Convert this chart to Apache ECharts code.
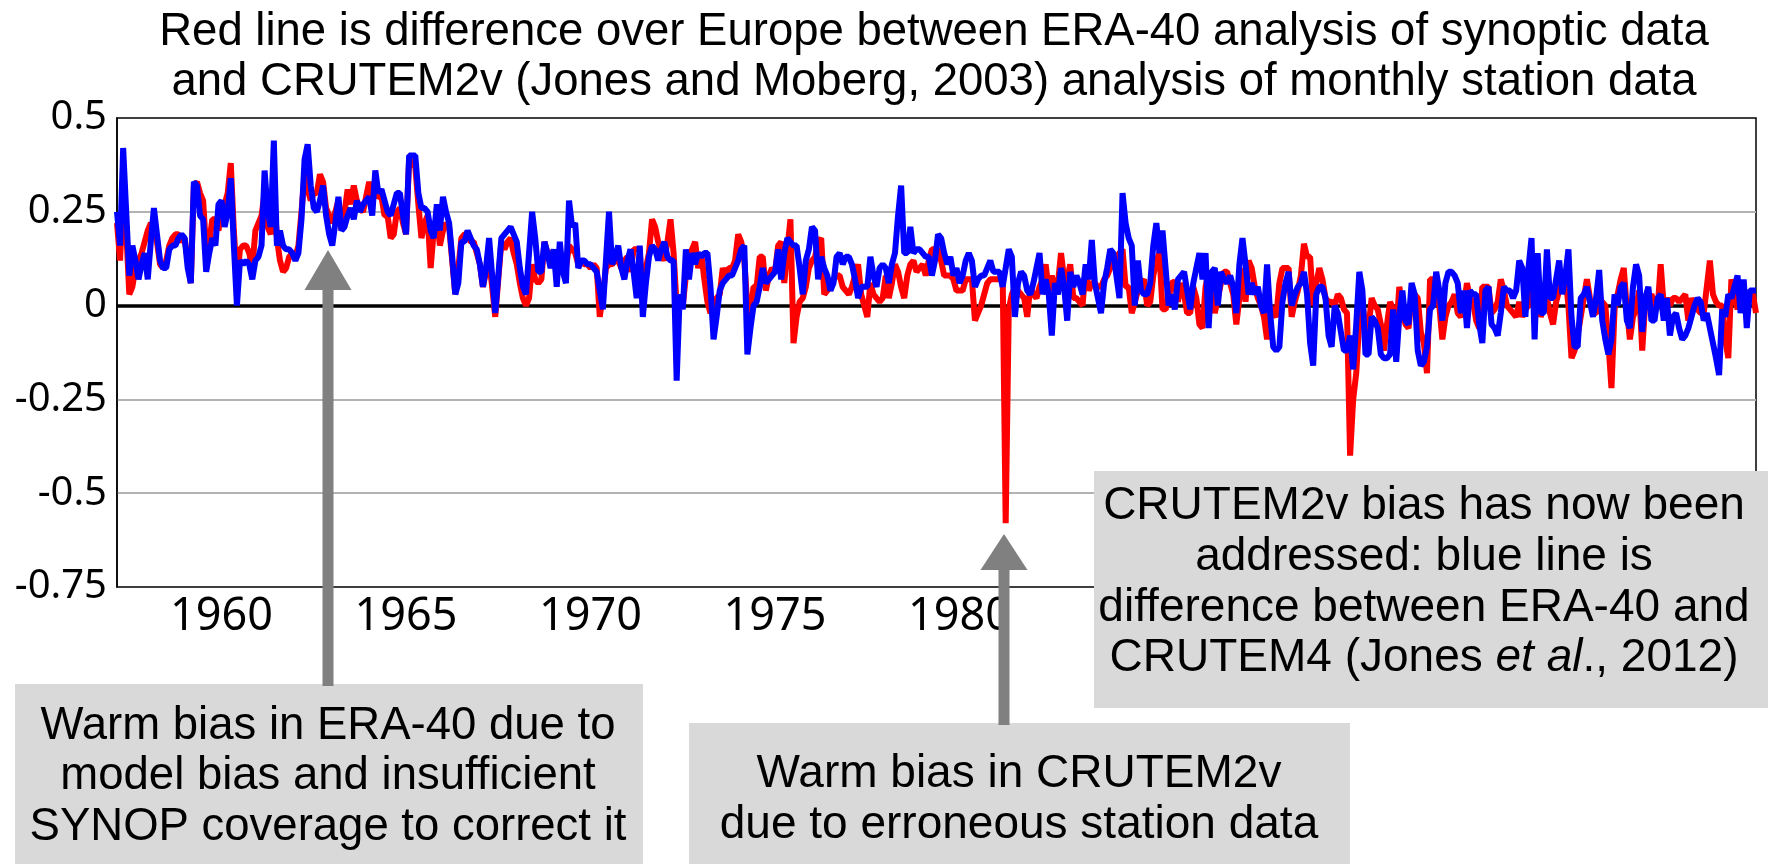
<!DOCTYPE html>
<html>
<head>
<meta charset="utf-8">
<script src="https://cdn.jsdelivr.net/npm/echarts@6/dist/echarts.min.js"></script>
<style>
  html, body { margin: 0; padding: 0; background: #fff; }
  #chart { width: 1768px; height: 864px; }
</style>
</head>
<body>
<div id="chart"></div>
<script>
// monthly series start Sep 1957
const startYear = 1957
const startMonth = 9
const labelYears = [1960, 1965, 1970, 1975, 1980, 1985, 1990, 1995, 2000]

// ERA-40 minus CRUTEM2v (red)
const era40MinusCrutem2v = [
  0.22, 0.12, 0.30, 0.20, 0.03, 0.05, 0.10, 0.12, 0.14, 0.17,
  0.20, 0.22, 0.21, 0.17, 0.11, 0.10, 0.12, 0.16, 0.18, 0.19,
  0.19, 0.17, 0.18, 0.12, 0.06, 0.32, 0.33, 0.30, 0.28, 0.15,
  0.17, 0.23, 0.23, 0.20, 0.26, 0.27, 0.30, 0.38, 0.20, 0.07,
  0.15, 0.16, 0.16, 0.14, 0.10, 0.20, 0.22, 0.24, 0.30, 0.21,
  0.19, 0.30, 0.18, 0.12, 0.09, 0.10, 0.13, 0.14, 0.13, 0.16,
  0.25, 0.35, 0.31, 0.28, 0.30, 0.30, 0.35, 0.33, 0.26, 0.24,
  0.22, 0.25, 0.28, 0.20, 0.25, 0.31, 0.27, 0.32, 0.28, 0.26,
  0.25, 0.29, 0.33, 0.28, 0.30, 0.29, 0.29, 0.24, 0.24, 0.18,
  0.19, 0.25, 0.26, 0.22, 0.19, 0.39, 0.38, 0.37, 0.27, 0.18,
  0.22, 0.24, 0.10, 0.20, 0.24, 0.16, 0.20, 0.22, 0.21, 0.12,
  0.03, 0.10, 0.18, 0.19, 0.19, 0.17, 0.17, 0.14, 0.11, 0.05,
  0.09, 0.12, 0.05, -0.03, 0.07, 0.17, 0.15, 0.17, 0.18, 0.14,
  0.11, 0.06, 0.02, 0.00, 0.02, 0.11, 0.07, 0.06, 0.07, 0.17,
  0.14, 0.14, 0.12, 0.09, 0.12, 0.14, 0.10, 0.16, 0.15, 0.14,
  0.11, 0.12, 0.11, 0.11, 0.10, 0.11, 0.10, -0.03, 0.03, 0.10,
  0.11, 0.11, 0.12, 0.12, 0.10, 0.12, 0.13, 0.09, 0.15, 0.15,
  0.15, 0.00, 0.10, 0.14, 0.23, 0.21, 0.17, 0.14, 0.12, 0.17,
  0.23, 0.14, 0.00, 0.00, 0.00, 0.08, 0.11, 0.15, 0.17, 0.10,
  0.14, 0.07, 0.01, -0.02, 0.01, 0.02, 0.03, 0.10, 0.08, 0.10,
  0.10, 0.12, 0.19, 0.17, 0.12, 0.00, -0.03, 0.05, 0.05, 0.13,
  0.13, 0.04, 0.08, 0.10, 0.09, 0.16, 0.17, 0.06, 0.15, 0.23,
  -0.10, -0.03, 0.01, 0.02, 0.05, 0.10, 0.12, 0.13, 0.17, 0.18,
  0.03, 0.04, 0.05, 0.07, 0.08, 0.08, 0.05, 0.04, 0.03, 0.05,
  0.08, 0.11, 0.03, 0.00, -0.03, 0.06, 0.03, 0.02, 0.01, 0.02,
  0.08, 0.02, 0.06, 0.11, 0.09, 0.05, 0.02, 0.08, 0.11, 0.12,
  0.09, 0.10, 0.11, 0.08, 0.12, 0.15, 0.15, 0.15, 0.12, 0.08,
  0.08, 0.08, 0.07, 0.04, 0.04, 0.04, 0.07, 0.07, 0.07, -0.04,
  -0.02, 0.00, 0.03, 0.06, 0.07, 0.07, 0.07, 0.07, 0.09, -0.58,
  -0.01, 0.03, 0.05, 0.04, 0.03, 0.02, -0.03, 0.05, 0.03, 0.02,
  0.05, 0.07, 0.11, 0.04, 0.08, 0.04, 0.06, 0.14, 0.07, 0.07,
  0.11, 0.02, 0.02, 0.01, 0.00, 0.10, 0.04, 0.06, 0.06, 0.05,
  0.05, 0.07, 0.08, 0.10, 0.11, 0.13, 0.14, 0.15, 0.05, 0.05,
  -0.02, 0.01, 0.04, 0.06, 0.07, 0.00, 0.01, 0.08, 0.12, 0.14,
  -0.01, -0.01, 0.02, 0.06, 0.065, 0.01, 0.06, 0.03, -0.02, -0.02,
  0.05, 0.02, -0.05, -0.06, 0.05, 0.09, 0.05, -0.02, 0.02, 0.06,
  0.09, 0.09, 0.06, 0.03, -0.05, 0.02, 0.10, 0.01, 0.12, 0.10,
  0.05, 0.02, 0.00, -0.03, -0.09, 0.00, -0.02, -0.03, 0.06, 0.10,
  0.10, 0.10, -0.03, 0.01, 0.04, 0.08, 0.165, 0.13, 0.13, 0.00,
  0.06, 0.10, 0.07, 0.02, 0.01, 0.01, 0.00, 0.03, 0.02, -0.01,
  -0.02, -0.40, -0.25, -0.18, -0.04, 0.02, -0.08, -0.06, 0.02, 0.00,
  -0.01, -0.05, -0.12, -0.05, 0.01, -0.01, -0.07, 0.05, 0.00, -0.05,
  -0.06, 0.02, 0.03, 0.02, -0.07, -0.10, -0.18, 0.07, 0.07, 0.03,
  0.00, -0.09, -0.03, 0.00, 0.01, 0.03, -0.02, -0.03, 0.00, 0.06,
  0.02, 0.01, -0.04, -0.06, 0.05, 0.05, 0.05, -0.02, -0.01, 0.01,
  0.07, 0.04, 0.00, -0.01, -0.02, -0.03, 0.01, -0.03, -0.01, 0.00,
  0.11, 0.10, 0.03, -0.03, 0.00, 0.02, -0.02, -0.05, 0.01, 0.04,
  0.06, 0.08, 0.00, -0.14, -0.12, -0.08, -0.03, 0.02, 0.07, 0.02,
  -0.02, -0.02, 0.01, 0.01, 0.00, -0.10, -0.22, -0.01, 0.03, 0.07,
  0.10, -0.01, -0.09, -0.03, -0.01, 0.04, -0.12, 0.01, 0.02, 0.03,
  0.00, -0.01, 0.11, 0.00, 0.02, 0.00, 0.02, 0.02, 0.01, 0.02,
  0.03, -0.04, 0.02, 0.00, -0.01, -0.02, -0.02, 0.05, 0.12, 0.03,
  0.01, 0.00, 0.00, -0.09, -0.14, 0.07, 0.03, -0.01, 0.03, 0.03,
  0.03, 0.03, 0.03, -0.02
]

// ERA-40 minus CRUTEM4 (blue)
const era40MinusCrutem4 = [
  0.25, 0.16, 0.42, 0.25, 0.08, 0.16, 0.12, 0.07, 0.11, 0.14,
  0.07, 0.17, 0.26, 0.19, 0.12, 0.10, 0.10, 0.15, 0.16, 0.16,
  0.18, 0.19, 0.18, 0.10, 0.06, 0.33, 0.32, 0.24, 0.23, 0.09,
  0.14, 0.18, 0.16, 0.27, 0.28, 0.21, 0.25, 0.34, 0.16, 0.00,
  0.12, 0.11, 0.12, 0.11, 0.07, 0.12, 0.13, 0.16, 0.36, 0.25,
  0.21, 0.44, 0.16, 0.20, 0.16, 0.15, 0.15, 0.14, 0.12, 0.14,
  0.23, 0.39, 0.43, 0.32, 0.26, 0.25, 0.28, 0.32, 0.24, 0.19,
  0.16, 0.22, 0.29, 0.20, 0.21, 0.24, 0.26, 0.23, 0.28, 0.25,
  0.27, 0.28, 0.29, 0.24, 0.36, 0.30, 0.31, 0.28, 0.25, 0.24,
  0.27, 0.30, 0.30, 0.24, 0.19, 0.40, 0.40, 0.40, 0.30, 0.26,
  0.26, 0.25, 0.20, 0.18, 0.27, 0.20, 0.29, 0.25, 0.22, 0.13,
  0.03, 0.06, 0.17, 0.17, 0.20, 0.18, 0.16, 0.15, 0.11, 0.05,
  0.10, 0.18, 0.08, -0.02, 0.08, 0.18, 0.19, 0.20, 0.21, 0.19,
  0.17, 0.10, 0.05, 0.03, 0.14, 0.25, 0.18, 0.09, 0.09, 0.17,
  0.14, 0.10, 0.15, 0.05, 0.17, 0.09, 0.06, 0.28, 0.21, 0.22,
  0.10, 0.12, 0.12, 0.11, 0.11, 0.10, 0.09, 0.04, -0.01, 0.12,
  0.25, 0.11, 0.13, 0.16, 0.10, 0.07, 0.12, 0.15, 0.09, 0.02,
  0.16, -0.03, 0.06, 0.13, 0.16, 0.15, 0.12, 0.15, 0.17, 0.13,
  0.12, 0.12, -0.20, 0.03, -0.01, 0.15, 0.07, 0.14, 0.11, 0.14,
  0.13, 0.14, 0.14, 0.05, -0.09, -0.03, 0.04, 0.06, 0.07, 0.08,
  0.08, 0.10, 0.12, 0.15, 0.16, -0.13, -0.06, 0.00, 0.01, 0.05,
  0.10, 0.06, 0.07, 0.08, 0.09, 0.15, 0.07, 0.14, 0.18, 0.17,
  0.16, 0.16, 0.10, 0.03, 0.12, 0.15, 0.21, 0.20, 0.07, 0.13,
  0.10, 0.08, 0.04, 0.06, 0.13, 0.14, 0.11, 0.13, 0.13, 0.11,
  0.07, 0.02, 0.05, 0.05, 0.05, 0.13, 0.08, 0.05, 0.10, 0.11,
  0.10, 0.06, 0.11, 0.14, 0.24, 0.32, 0.14, 0.14, 0.21, 0.14,
  0.15, 0.15, 0.14, 0.13, 0.13, 0.08, 0.12, 0.19, 0.18, 0.14,
  0.11, 0.13, 0.08, 0.10, 0.06, 0.08, 0.12, 0.14, 0.12, 0.05,
  0.07, 0.08, 0.08, 0.10, 0.12, 0.09, 0.09, 0.09, 0.05, 0.10,
  0.15, 0.13, -0.03, 0.06, 0.09, 0.08, 0.04, 0.03, 0.06, 0.10,
  0.14, 0.03, 0.07, 0.03, -0.08, 0.06, 0.03, 0.10, 0.05, -0.04,
  0.09, 0.05, 0.08, 0.06, 0.03, 0.11, 0.07, 0.175, 0.06, 0.02,
  -0.02, 0.06, 0.10, 0.15, 0.14, 0.08, 0.02, 0.30, 0.22, 0.18,
  0.16, 0.00, 0.12, 0.04, 0.03, 0.03, 0.06, 0.16, 0.22, 0.14,
  0.20, 0.10, 0.00, 0.03, -0.01, 0.07, 0.08, 0.09, 0.04, -0.01,
  0.06, 0.10, 0.14, 0.07, 0.14, -0.06, 0.09, 0.10, 0.00, 0.09,
  0.07, 0.06, 0.08, 0.05, -0.02, 0.11, 0.18, 0.11, 0.03, 0.06,
  0.03, 0.05, 0.00, -0.02, 0.11, -0.02, -0.11, -0.12, -0.11, 0.01,
  0.06, 0.09, 0.00, 0.03, 0.05, 0.06, 0.09, 0.03, -0.10, -0.16,
  0.03, 0.05, 0.05, 0.02, -0.08, -0.11, 0.00, -0.02, -0.07, -0.12,
  -0.12, -0.08, -0.17, -0.05, 0.09, 0.04, -0.13, -0.13, -0.03, -0.04,
  -0.06, -0.13, -0.14, -0.14, -0.13, -0.01, -0.15, -0.03, 0.04, -0.04,
  -0.05, 0.06, 0.03, -0.12, -0.16, -0.15, -0.11, -0.01, 0.00, 0.09,
  0.04, -0.04, 0.06, 0.09, 0.09, 0.08, 0.06, -0.02, 0.04, -0.06,
  0.04, 0.03, 0.03, -0.05, -0.10, 0.04, 0.05, -0.05, -0.06, -0.08,
  -0.02, 0.05, 0.04, 0.04, 0.02, 0.04, 0.12, 0.10, -0.03, 0.10,
  0.18, -0.09, 0.14, -0.02, -0.02, 0.15, 0.02, 0.02, 0.07, 0.12,
  0.03, 0.08, 0.15, -0.03, -0.11, -0.11, 0.02, 0.03, 0.05, 0.01,
  -0.03, 0.02, 0.095, -0.04, -0.09, -0.13, -0.09, 0.03, 0.00, 0.05,
  0.06, -0.04, -0.06, 0.05, 0.11, 0.08, -0.07, 0.02, 0.05, -0.04,
  -0.04, 0.02, 0.03, -0.04, 0.02, -0.08, -0.03, -0.02, -0.06, -0.09,
  -0.08, -0.06, -0.03, 0.00, 0.02, 0.01, -0.04, -0.02, -0.06, -0.10,
  -0.14, -0.185, -0.01, -0.03, 0.03, 0.02, 0.05, 0.08, -0.02, 0.07,
  -0.06, 0.04, 0.04, 0.04
]

const months = era40MinusCrutem2v.map((_, i) => {
  const m = startMonth - 1 + i
  return (startYear + Math.floor(m / 12)) + '-' + String(m % 12 + 1).padStart(2, '0')
})

const textFont = '"Liberation Sans", Arial, sans-serif'
const tickFont = '"Noto Sans", sans-serif'
const boxGray = '#d9d9d9'
const arrowGray = '#808080'

const chart = echarts.init(document.getElementById('chart'))

function line(x, y, text, size) {
  return {
    type: 'text', x: x, y: y, z: 110,
    style: { text: text, fontSize: size, fontFamily: textFont, fill: '#000', align: 'center', verticalAlign: 'middle' }
  }
}

function arrow(cx, tipY, baseY, endY) {
  return [
    { type: 'rect', z: 105, shape: { x: cx - 5.5, y: baseY - 1, width: 11, height: endY - baseY + 1 }, style: { fill: arrowGray } },
    { type: 'polygon', z: 105, shape: { points: [[cx, tipY], [cx - 23.5, baseY], [cx + 23.5, baseY]] }, style: { fill: arrowGray } }
  ]
}

const option = {
  animation: false,
  backgroundColor: '#fff',
  grid: { left: 117, right: 12, top: 118, bottom: 277, show: true, borderColor: '#000', borderWidth: 1.5, backgroundColor: 'transparent' },
  xAxis: {
    type: 'category',
    data: months,
    boundaryGap: false,
    axisLine: { show: true, lineStyle: { color: '#000', width: 1.5 } },
    axisTick: { show: false },
    splitLine: { show: false },
    axisLabel: {
      interval: (index, value) => value.slice(5) === '07' && labelYears.includes(+value.slice(0, 4)),
      formatter: value => value.slice(0, 4),
      fontSize: 45, fontFamily: tickFont, color: '#000', margin: 8
    }
  },
  yAxis: {
    type: 'value',
    min: -0.75, max: 0.5, interval: 0.25,
    axisLine: { show: true, lineStyle: { color: '#000', width: 1.5 } },
    axisTick: { show: false },
    splitLine: { show: true, showMinLine: false, showMaxLine: false, lineStyle: { color: '#b3b3b3', width: 2 } },
    axisLabel: { fontSize: 40, fontFamily: tickFont, color: '#000', margin: 10 }
  },
  series: [
    {
      name: 'ERA-40 minus CRUTEM2v',
      type: 'line',
      data: era40MinusCrutem2v,
      showSymbol: false,
      z: 3,
      lineStyle: { color: '#ff0000', width: 6 },
      markLine: {
        silent: true, z: 1, symbol: 'none', label: { show: false },
        lineStyle: { color: '#000', width: 3.5, type: 'solid' },
        data: [{ yAxis: 0 }]
      }
    },
    {
      name: 'ERA-40 minus CRUTEM4',
      type: 'line',
      data: era40MinusCrutem4,
      showSymbol: false,
      z: 4,
      lineStyle: { color: '#0000ff', width: 6 }
    }
  ],
  graphic: [
    line(934, 32, 'Red line is difference over Europe between ERA-40 analysis of synoptic data', 45.5),
    line(934, 82, 'and CRUTEM2v (Jones and Moberg, 2003) analysis of monthly station data', 45.5),

    ...arrow(328, 250, 290, 686),
    ...arrow(1004, 534, 570, 725),

    { type: 'rect', z: 100, shape: { x: 15, y: 684, width: 628, height: 180 }, style: { fill: boxGray } },
    line(328, 726, 'Warm bias in ERA-40 due to', 45.5),
    line(328, 776, 'model bias and insufficient', 45.5),
    line(328, 827, 'SYNOP coverage to correct it', 45.5),

    { type: 'rect', z: 100, shape: { x: 689, y: 723, width: 661, height: 141 }, style: { fill: boxGray } },
    line(1019, 774, 'Warm bias in CRUTEM2v', 46),
    line(1019, 825, 'due to erroneous station data', 46),

    { type: 'rect', z: 100, shape: { x: 1094, y: 471, width: 674, height: 237 }, style: { fill: boxGray } },
    line(1424, 506, 'CRUTEM2v bias has now been', 46),
    line(1424, 557, 'addressed: blue line is', 46),
    line(1424, 608, 'difference between ERA-40 and', 46),
    {
      type: 'text', x: 1424, y: 658, z: 110,
      style: {
        text: 'CRUTEM4 (Jones {it|et al}., 2012)',
        fontSize: 46, fontFamily: textFont, fill: '#000', align: 'center', verticalAlign: 'middle',
        rich: { it: { fontSize: 46, fontFamily: textFont, fontStyle: 'italic', fill: '#000' } }
      }
    }
  ]
}

chart.setOption(option)
window.addEventListener('resize', () => chart.resize())
</script>
</body>
</html>
